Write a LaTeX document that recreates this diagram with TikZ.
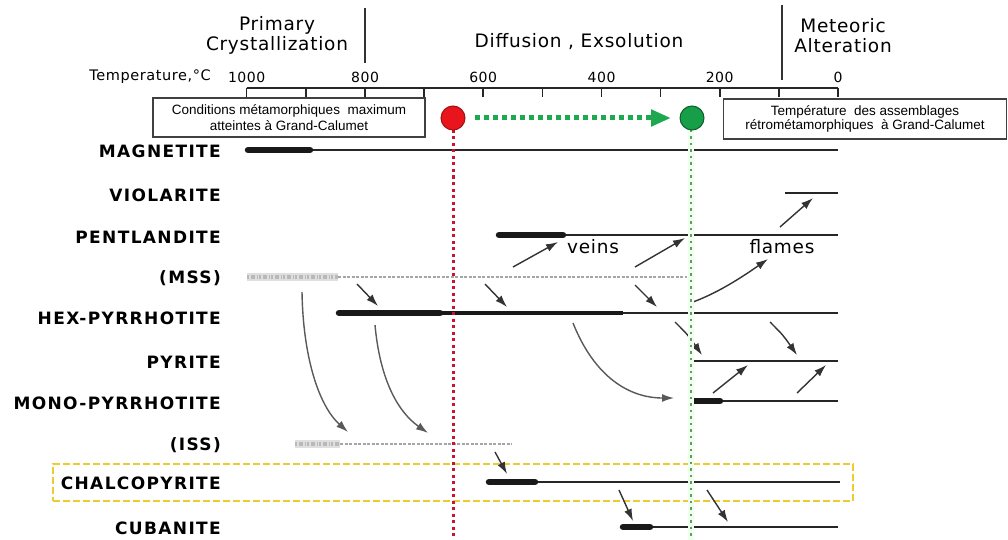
\documentclass[tikz,border=0pt]{standalone}
\usepackage{fontspec}
\setmainfont{DejaVu Sans}
\newfontfamily\labfam[LetterSpace=8]{DejaVu Sans}
\newfontfamily\hdrfam[LetterSpace=4]{DejaVu Sans}
\newfontfamily\boxfam{Liberation Sans}
\newcommand\labfont{\labfam\bfseries\fontsize{17}{19}\selectfont}
\newcommand\hdrfont{\hdrfam\fontsize{18.5}{20}\selectfont}
\newcommand\tickfont{\hdrfam\fontsize{14}{16}\selectfont}
\newcommand\tempfont{\hdrfam\fontsize{14.5}{16}\selectfont}
\newcommand\boxfontA{\boxfam\fontsize{13.5}{16.5}\selectfont}
\newcommand\boxfontB{\boxfam\fontsize{13.5}{13.5}\selectfont}
\usetikzlibrary{arrows.meta}
\definecolor{hotred}{RGB}{232,22,28}
\definecolor{hotline}{RGB}{200,20,50}
\definecolor{coolgreen}{RGB}{22,158,72}
\definecolor{arrowgreen}{RGB}{30,168,80}
\definecolor{dotgreen}{RGB}{110,150,95}
\definecolor{hiyellow}{RGB}{236,204,48}
\begin{document}
\begin{tikzpicture}[x=1pt,y=-1pt,
  lab/.style={font=\labfont, anchor=east, inner sep=0pt},
  hdr/.style={font=\hdrfont, align=center, inner sep=0pt},
  ticklab/.style={font=\tickfont, inner sep=0pt},
  kline/.style={line width=6.5pt, line cap=round, draw=black!90},
  mline/.style={line width=4pt, draw=black!90},
  tline/.style={line width=2.4pt, draw=black!85},
  fuzz/.style={line width=8pt, draw=gray!25},
  fuzzdots/.style={line width=4pt, draw=gray!55, dash pattern=on 2pt off 1.5pt on 4pt off 2pt on 1.5pt off 1pt},
  dline/.style={line width=1.4pt, draw=gray!70, dash pattern=on 3pt off 1.5pt},
  arr/.style={line width=1.4pt, draw=black!80, -{Latex[length=12pt,width=8pt]}},
  carr/.style={line width=1.4pt, draw=black!65, -{Latex[length=12pt,width=8pt]}},
  infobox/.style={draw=black!75, line width=1.1pt, fill=white, align=center, inner sep=0pt},
  hilite/.style={draw=hiyellow, line width=2pt, dash pattern=on 7pt off 3pt, inner sep=0pt},
  sep/.style={line width=1.6pt, draw=black!80},
]
\useasboundingbox (0,0) rectangle (1008,540);

% highlight box
\node[hilite, minimum width=800pt, minimum height=37pt] (hl) at (453,482.5) {};

% headers
\node[hdr] (prim) at (277,35) {Primary\\Crystallization};
\node[hdr] (diff) at (579,42) {Diffusion , Exsolution};
\node[hdr] (meteo) at (843,36) {Meteoric\\Alteration};
\coordinate (s1a) at (365,8); \coordinate (s1b) at (365,63);
\coordinate (s2a) at (782,5); \coordinate (s2b) at (782,80);
\draw[sep] (s1a) -- (s1b);
\draw[sep] (s2a) -- (s2b);

% axis
\node[font=\tempfont, anchor=east, inner sep=0pt] (templab) at (211,77) {Temperature,°C};
\coordinate (ax0) at (246.7,88); \coordinate (ax1) at (838,88);
\draw[line width=2pt, black!85] (ax0) -- (ax1);
\foreach \t in {0,...,10} {
  \draw[line width=1.5pt, black!85] (838-59.13*\t,88) -- (838-59.13*\t,97);
}
\node[ticklab] (t1000) at (246.7,77) {1000};
\node[ticklab] (t800) at (365.0,77) {800};
\node[ticklab] (t600) at (483.2,77) {600};
\node[ticklab] (t400) at (601.5,77) {400};
\node[ticklab] (t200) at (719.7,77) {200};
\node[ticklab] (t0) at (838,77) {0};

% info boxes
\node[infobox, font=\boxfontA, minimum width=272pt, minimum height=39pt] (lbox) at (289,117.5)
  {Conditions métamorphiques\ \ maximum\\atteintes à Grand-Calumet};
\node[infobox, font=\boxfontB, minimum width=283pt, minimum height=40pt] (rbox) at (865,119)
  {Température\ \ des assemblages\\rétrométamorphiques\ \ à Grand-Calumet};

% mineral labels
\node[lab] (lmag) at (221,151) {MAGNETITE};
\node[lab] (lvio) at (221,195) {VIOLARITE};
\node[lab] (lpen) at (221,237) {PENTLANDITE};
\node[lab] (lmss) at (221,278) {(MSS)};
\node[lab] (lhex) at (221,318) {HEX-PYRRHOTITE};
\node[lab] (lpyr) at (221,362) {PYRITE};
\node[lab] (lmon) at (221,403) {MONO-PYRRHOTITE};
\node[lab] (liss) at (221,445) {(ISS)};
\node[lab] (lcha) at (221,483) {CHALCOPYRITE};
\node[lab] (lcub) at (221,528) {CUBANITE};

% phase lines
\coordinate (mag0) at (248,150); \coordinate (mag1) at (310,150); \coordinate (mag2) at (838,150);
\draw[tline] (mag1) -- (mag2); \draw[kline] (mag0) -- (mag1);
\coordinate (vio0) at (785,193); \coordinate (vio1) at (838,193);
\draw[tline] (vio0) -- (vio1);
\coordinate (pen0) at (499,235); \coordinate (pen1) at (563,235); \coordinate (pen2) at (838,235);
\draw[tline] (pen1) -- (pen2); \draw[kline] (pen0) -- (pen1);
\coordinate (mss0) at (247,277); \coordinate (mss1) at (338,277); \coordinate (mss2) at (687,277);
\draw[fuzz] (mss0) -- (mss1); \draw[fuzzdots] (mss0) -- (mss1); \draw[dline] (mss1) -- (mss2);
\coordinate (hex0) at (339,313); \coordinate (hex1) at (440,313); \coordinate (hex2) at (623,313); \coordinate (hex3) at (838,313);
\draw[tline] (hex2) -- (hex3); \draw[mline] (hex1) -- (hex2); \draw[kline] (hex0) -- (hex1);
\coordinate (pyr0) at (692,361); \coordinate (pyr1) at (838,361);
\draw[tline] (pyr0) -- (pyr1);
\coordinate (mon0) at (693,401); \coordinate (mon1) at (720,401); \coordinate (mon2) at (838,401);
\draw[tline] (mon1) -- (mon2); \draw[kline] (mon0) -- (mon1);
\coordinate (iss0) at (295,444); \coordinate (iss1) at (340,444); \coordinate (iss2) at (512,444);
\draw[fuzz] (iss0) -- (iss1); \draw[fuzzdots] (iss0) -- (iss1); \draw[dline] (iss1) -- (iss2);
\coordinate (cha0) at (489,482); \coordinate (cha1) at (535,482); \coordinate (cha2) at (840,482);
\draw[tline] (cha1) -- (cha2); \draw[kline] (cha0) -- (cha1);
\coordinate (cub0) at (623,527); \coordinate (cub1) at (650,527); \coordinate (cub2) at (838,527);
\draw[tline] (cub1) -- (cub2); \draw[kline] (cub0) -- (cub1);

% arrows
\coordinate (a1s) at (357,284); \coordinate (a1e) at (378,306);
\coordinate (a2s) at (485,284); \coordinate (a2e) at (507,307);
\coordinate (a3s) at (635,285); \coordinate (a3e) at (657,307);
\coordinate (v1s) at (513,267); \coordinate (v1e) at (558,242);
\coordinate (v2s) at (635,267); \coordinate (v2e) at (685,238);
\coordinate (fls) at (693,302); \coordinate (fle) at (768,259);
\coordinate (vis) at (780,227); \coordinate (vie) at (813,198);
\coordinate (h1s) at (675,322); \coordinate (h1e) at (702,355);
\coordinate (h2s) at (770,322); \coordinate (h2e) at (797,355);
\coordinate (hms) at (573,323); \coordinate (hme) at (674,398);
\coordinate (m1s) at (713,393); \coordinate (m1e) at (748,365);
\coordinate (m2s) at (797,393); \coordinate (m2e) at (826,365);
\coordinate (c1s) at (302,292); \coordinate (c1e) at (348,432);
\coordinate (c2s) at (375,325); \coordinate (c2e) at (428,433);
\coordinate (ics) at (495,452); \coordinate (ice) at (507,474);
\coordinate (k1s) at (619,490); \coordinate (k1e) at (633,521);
\coordinate (k2s) at (707,490); \coordinate (k2e) at (728,522);
\draw[arr] (a1s) -- (a1e);
\draw[arr] (a2s) -- (a2e);
\draw[arr] (a3s) -- (a3e);
\draw[arr] (v1s) -- (v1e);
\draw[arr] (v2s) -- (v2e);
\draw[arr] (fls) .. controls (720,292) and (745,275) .. (fle);
\draw[arr] (vis) -- (vie);
\draw[arr] (h1s) .. controls (688,335) .. (h1e);
\draw[arr] (h2s) .. controls (783,335) .. (h2e);
\draw[carr] (hms) .. controls (595,378) and (630,398) .. (hme);
\draw[arr] (m1s) -- (m1e);
\draw[arr] (m2s) -- (m2e);
\draw[carr] (c1s) .. controls (303,355) and (318,405) .. (c1e);
\draw[carr] (c2s) .. controls (380,380) and (398,412) .. (c2e);
\draw[arr] (ics) -- (ice);
\draw[arr] (k1s) -- (k1e);
\draw[arr] (k2s) -- (k2e);

\node[font=\hdrfont, inner sep=0pt] (veins) at (593,247) {veins};
\node[font=\hdrfont, inner sep=0pt] (flames) at (782,247) {flames};

% temperature markers
\coordinate (rl0) at (453,130); \coordinate (rl1) at (453,540);
\coordinate (gl0) at (691,130); \coordinate (gl1) at (691,540);
\draw[line width=6pt, green!7] (gl0) -- (gl1);
\draw[line width=2.6pt, dotgreen, dash pattern=on 2.5pt off 4pt] (gl0) -- (gl1);
\draw[line width=3pt, hotline, dash pattern=on 3pt off 3.5pt] (rl0) -- (rl1);
\node[circle, fill=hotred, draw=hotred!70!black, line width=1pt, minimum size=24pt, inner sep=0pt] (hot) at (453,118) {};
\node[circle, fill=coolgreen, draw=coolgreen!60!black, line width=1pt, minimum size=24pt, inner sep=0pt] (cool) at (692,118) {};
\coordinate (ga0) at (475,118); \coordinate (ga1) at (671,118);
\draw[line width=5pt, arrowgreen, dash pattern=on 5pt off 4pt, -{Triangle[length=20pt,width=16pt]}] (ga0) -- (ga1);
\end{tikzpicture}
\end{document}
